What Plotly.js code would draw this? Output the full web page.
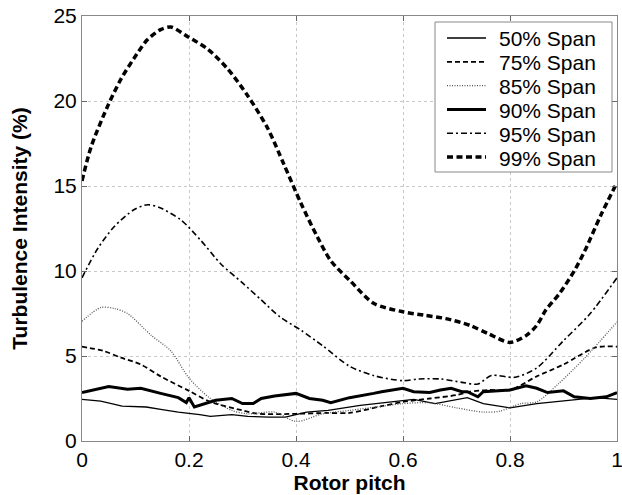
<!DOCTYPE html>
<html>
<head>
<meta charset="utf-8">
<script src="https://cdn.plot.ly/plotly-3.0.1.min.js"></script>
<style>html,body{margin:0;padding:0;background:#fff;}#chart{width:622px;height:495px;}</style>
</head>
<body>
<div id="chart"></div>
<script>
// Series names
const seriesNames = ["50% Span", "75% Span", "85% Span", "90% Span", "95% Span", "99% Span"];

// 50% Span
const x50 = [0, 0.035, 0.075, 0.12, 0.15, 0.18, 0.22, 0.24, 0.28, 0.31, 0.35, 0.38, 0.42, 0.46, 0.52, 0.6, 0.62, 0.66, 0.7, 0.72, 0.75, 0.8, 0.85, 0.9, 0.96, 1.0];
const y50 = [2.45, 2.35, 2.05, 2.0, 1.85, 1.7, 1.55, 1.45, 1.55, 1.45, 1.4, 1.4, 1.7, 1.8, 2.1, 2.35, 2.45, 2.2, 2.45, 2.55, 2.2, 1.95, 2.2, 2.35, 2.55, 2.45];

// 75% Span
const x75 = [0, 0.04, 0.073, 0.11, 0.147, 0.2, 0.24, 0.3, 0.33, 0.4, 0.46, 0.5, 0.56, 0.6, 0.65, 0.7, 0.725, 0.76, 0.8, 0.85, 0.9, 0.96, 1.0];
const y75 = [5.55, 5.3, 4.9, 4.5, 3.8, 2.95, 2.3, 1.8, 1.6, 1.6, 1.65, 1.65, 2.05, 2.3, 2.5, 2.7, 2.9, 3.0, 3.0, 3.8, 4.5, 5.5, 5.55];

// 85% Span
const x85 = [0, 0.035, 0.06, 0.085, 0.13, 0.166, 0.2, 0.24, 0.28, 0.31, 0.36, 0.4, 0.45, 0.5, 0.55, 0.6, 0.65, 0.7, 0.75, 0.78, 0.82, 0.85, 0.89, 0.94, 1.0];
const y85 = [7.05, 7.85, 7.8, 7.5, 6.2, 5.3, 3.7, 2.5, 1.8, 1.6, 1.7, 1.15, 1.6, 1.8, 2.0, 2.2, 2.25, 1.95, 1.7, 1.75, 2.2, 2.3, 3.35, 4.9, 7.0];

// 90% Span
const x90 = [0, 0.05, 0.085, 0.11, 0.147, 0.18, 0.195, 0.2, 0.21, 0.23, 0.25, 0.28, 0.3, 0.32, 0.335, 0.36, 0.4, 0.425, 0.45, 0.465, 0.5, 0.545, 0.56, 0.6, 0.62, 0.65, 0.67, 0.69, 0.71, 0.72, 0.74, 0.75, 0.8, 0.83, 0.85, 0.87, 0.9, 0.92, 0.95, 0.98, 1.0];
const y90 = [2.85, 3.2, 3.05, 3.1, 2.8, 2.55, 2.26, 2.55, 2.0, 2.2, 2.4, 2.5, 2.2, 2.2, 2.5, 2.65, 2.8, 2.5, 2.4, 2.25, 2.55, 2.8, 2.9, 3.1, 2.9, 2.85, 3.0, 3.1, 2.9, 2.9, 2.6, 2.9, 3.0, 3.25, 3.1, 2.85, 2.95, 2.6, 2.5, 2.6, 2.85];

// 95% Span
const x95 = [0, 0.03, 0.06, 0.097, 0.123, 0.147, 0.185, 0.222, 0.26, 0.3, 0.335, 0.37, 0.41, 0.45, 0.5, 0.545, 0.6, 0.63, 0.67, 0.71, 0.74, 0.765, 0.81, 0.85, 0.9, 0.95, 1.0];
const y95 = [9.6, 11.35, 12.6, 13.6, 13.9, 13.7, 13.0, 11.8, 10.4, 9.3, 8.3, 7.3, 6.5, 5.6, 4.4, 3.85, 3.55, 3.65, 3.65, 3.45, 3.35, 3.85, 3.75, 4.3, 5.9, 7.5, 9.6];

// 99% Span
const x99 = [0, 0.017, 0.048, 0.073, 0.097, 0.122, 0.147, 0.166, 0.197, 0.235, 0.272, 0.31, 0.347, 0.377, 0.409, 0.44, 0.465, 0.502, 0.545, 0.6, 0.64, 0.68, 0.725, 0.76, 0.8, 0.83, 0.85, 0.867, 0.893, 0.92, 0.94, 0.97, 1.0];
const y99 = [15.3, 17.3, 19.7, 21.3, 22.5, 23.6, 24.2, 24.35, 23.8, 23.05, 21.9, 20.3, 18.4, 16.3, 14.0, 12.0, 10.6, 9.4, 8.1, 7.6, 7.4, 7.2, 6.8, 6.3, 5.8, 6.2, 6.8, 7.7, 8.7, 10.0, 11.2, 13.3, 15.2];

const xTicks = [0, 0.2, 0.4, 0.6, 0.8, 1];
const xTickText = ["0", "0.2", "0.4", "0.6", "0.8", "1"];
const yTicks = [0, 5, 10, 15, 20, 25];
const yTickText = ["0", "5", "10", "15", "20", "25"];

const xs = [x50, x75, x85, x90, x95, x99];
const ys = [y50, y75, y85, y90, y95, y99];
const styles = [
  {color: "#000", width: 1.3, dash: "solid", shape: "linear"},
  {color: "#000", width: 1.8, dash: "5px,3px", shape: "spline"},
  {color: "#555", width: 1.3, dash: "1px,1.5px", shape: "spline"},
  {color: "#000", width: 3, dash: "solid", shape: "linear"},
  {color: "#000", width: 1.6, dash: "6px,3px,2px,3px", shape: "spline"},
  {color: "#000", width: 3.5, dash: "6px,3.5px", shape: "spline"}
];

const traces = seriesNames.map((n, i) => ({
  x: xs[i], y: ys[i], name: n, type: "scatter", mode: "lines",
  line: {color: styles[i].color, width: styles[i].width, dash: styles[i].dash, shape: styles[i].shape, smoothing: 0.8}
}));

// Hand-drawn legend box (pixel geometry of the plot frame)
const W = 622, H = 495, ML = 82, MR = 5, MT = 16, MB = 54;
const PW = W - ML - MR, PH = H - MT - MB;
const px = v => (v - ML) / PW;
const py = v => (H - MB - v) / PH;
const shapes = [{
  type: "rect", xref: "paper", yref: "paper",
  x0: px(435), x1: px(612), y0: py(172), y1: py(22),
  fillcolor: "#fff", line: {color: "#888", width: 1}, layer: "above"
}];
const annotations = [];
seriesNames.forEach((n, i) => {
  const cy = 38 + i * 23.8;
  shapes.push({
    type: "line", xref: "paper", yref: "paper", layer: "above",
    x0: px(447), x1: px(486), y0: py(cy), y1: py(cy),
    line: {color: i === 2 ? "#555" : "#000", width: styles[i].width, dash: styles[i].dash}
  });
  annotations.push({
    xref: "paper", yref: "paper", x: px(497), y: py(cy + 1),
    xanchor: "left", yanchor: "middle", showarrow: false,
    text: n, font: {size: 21, color: "#000"}
  });
});

const font = {family: "Liberation Sans, Arial, sans-serif", color: "#000"};
const layout = {
  width: W, height: H,
  margin: {l: ML, r: MR, t: MT, b: MB},
  paper_bgcolor: "#fff", plot_bgcolor: "#fff",
  showlegend: false,
  font: Object.assign({}, font, {size: 21}),
  shapes: shapes, annotations: annotations,
  xaxis: {
    range: [0, 1], tickvals: xTicks, ticktext: xTickText,
    ticks: "inside", ticklen: 5, tickcolor: "#666", mirror: "ticks",
    showline: true, linecolor: "#888", linewidth: 1,
    showgrid: true, gridcolor: "#c8c8c8", griddash: "dot", gridwidth: 1,
    zeroline: false, tickfont: {size: 21}, ticklabeloverflow: "allow",
    title: {text: "<b>Rotor pitch</b>", font: {size: 21}, standoff: 0}
  },
  yaxis: {
    range: [0, 25], tickvals: yTicks, ticktext: yTickText,
    ticks: "inside", ticklen: 5, tickcolor: "#666", mirror: "ticks",
    showline: true, linecolor: "#888", linewidth: 1,
    showgrid: true, gridcolor: "#c8c8c8", griddash: "dot", gridwidth: 1,
    zeroline: false, tickfont: {size: 21}, ticklabeloverflow: "allow",
    title: {text: "<b>Turbulence Intensity (%)</b>", font: {size: 21}, standoff: 20}
  }
};

Plotly.newPlot("chart", traces, layout, {displayModeBar: false, staticPlot: true});
</script>
</body>
</html>
